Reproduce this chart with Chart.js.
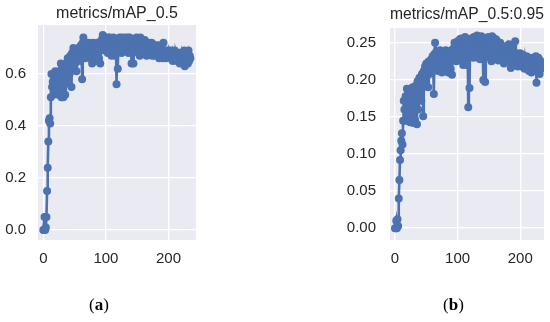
<!DOCTYPE html>
<html>
<head>
<meta charset="utf-8">
<script src="https://cdn.jsdelivr.net/npm/chart.js@4.4.1/dist/chart.umd.min.js"></script>
<style>
  html, body { margin: 0; padding: 0; background: #fff; overflow: hidden; }
  #wrap { position: relative; width: 550px; height: 322px; }
  .box { position: absolute; top: 0; width: 275px; height: 322px; }
  .cap { position: absolute; top: 295px; font-family: "Liberation Serif", "Times New Roman", serif; font-size: 17px; color: #000; }
  .cap b { font-weight: bold; }
</style>
</head>
<body>
<div id="wrap">
  <div class="box" style="left:0"><canvas id="chartA" width="275" height="322"></canvas></div>
  <div class="box" style="left:275px"><canvas id="chartB" width="275" height="322"></canvas></div>
  <div class="cap" style="left:89px">(<b>a</b>)</div>
  <div class="cap" style="left:443px">(<b>b</b>)</div>
</div>
<script>
// values, one per epoch (0..235)
var map50 = [
  0.00, 0.00, 0.05, 0.00, 0.01, 0.05, 0.15, 0.24, 0.34, 0.42,
  0.43, 0.41, 0.51, 0.60, 0.55, 0.57, 0.52, 0.60, 0.54, 0.61,
  0.53, 0.60, 0.56, 0.59, 0.52, 0.61, 0.57, 0.54, 0.64, 0.51,
  0.62, 0.58, 0.51, 0.63, 0.56, 0.52, 0.64, 0.57, 0.62, 0.66,
  0.59, 0.64, 0.60, 0.67, 0.62, 0.55, 0.68, 0.63, 0.70, 0.66,
  0.69, 0.64, 0.67, 0.61, 0.68, 0.66, 0.70, 0.67, 0.69, 0.65,
  0.71, 0.68, 0.58, 0.72, 0.74, 0.69, 0.71, 0.66, 0.70, 0.67,
  0.71, 0.68, 0.72, 0.67, 0.70, 0.66, 0.71, 0.69, 0.64, 0.72,
  0.69, 0.71, 0.67, 0.70, 0.69, 0.65, 0.72, 0.68, 0.70, 0.66,
  0.72, 0.64, 0.71, 0.73, 0.70, 0.75, 0.71, 0.73, 0.69, 0.72,
  0.74, 0.70, 0.73, 0.68, 0.74, 0.71, 0.74, 0.69, 0.72, 0.67,
  0.73, 0.71, 0.74, 0.69, 0.72, 0.67, 0.73, 0.56, 0.71, 0.62,
  0.72, 0.69, 0.74, 0.71, 0.73, 0.68, 0.74, 0.72, 0.70, 0.73,
  0.71, 0.74, 0.69, 0.73, 0.70, 0.74, 0.68, 0.72, 0.74, 0.70,
  0.72, 0.64, 0.70, 0.73, 0.64, 0.71, 0.69, 0.73, 0.70, 0.74,
  0.71, 0.73, 0.68, 0.72, 0.67, 0.74, 0.70, 0.72, 0.68, 0.73,
  0.71, 0.69, 0.73, 0.70, 0.72, 0.67, 0.71, 0.69, 0.72, 0.70,
  0.68, 0.71, 0.69, 0.72, 0.67, 0.70, 0.68, 0.71, 0.69, 0.70,
  0.67, 0.69, 0.71, 0.68, 0.70, 0.66, 0.69, 0.71, 0.67, 0.69,
  0.68, 0.66, 0.72, 0.67, 0.69, 0.68, 0.66, 0.69, 0.67, 0.68,
  0.69, 0.67, 0.68, 0.66, 0.69, 0.67, 0.68, 0.65, 0.68, 0.67,
  0.69, 0.66, 0.68, 0.67, 0.65, 0.68, 0.66, 0.67, 0.64, 0.68,
  0.66, 0.68, 0.65, 0.67, 0.66, 0.69, 0.63, 0.67, 0.65, 0.68,
  0.66, 0.64, 0.69, 0.65, 0.67, 0.66
];

var map5095 = [
  0.000, 0.000, 0.010, 0.000, 0.012, 0.003, 0.040, 0.065, 0.092, 0.105,
  0.118, 0.128, 0.113, 0.145, 0.172, 0.160, 0.145, 0.178, 0.152, 0.188,
  0.160, 0.182, 0.148, 0.175, 0.143, 0.185, 0.165, 0.150, 0.190, 0.142,
  0.180, 0.160, 0.146, 0.192, 0.170, 0.140, 0.198, 0.160, 0.195, 0.203,
  0.185, 0.200, 0.172, 0.208, 0.190, 0.151, 0.212, 0.195, 0.218, 0.200,
  0.222, 0.205, 0.215, 0.190, 0.225, 0.208, 0.220, 0.212, 0.228, 0.210,
  0.232, 0.218, 0.181, 0.235, 0.250, 0.222, 0.238, 0.215, 0.230, 0.212,
  0.235, 0.220, 0.240, 0.218, 0.232, 0.210, 0.236, 0.225, 0.215, 0.238,
  0.228, 0.240, 0.218, 0.235, 0.225, 0.210, 0.238, 0.222, 0.232, 0.215,
  0.240, 0.207, 0.235, 0.242, 0.228, 0.250, 0.236, 0.245, 0.225, 0.240,
  0.252, 0.235, 0.248, 0.228, 0.255, 0.240, 0.256, 0.232, 0.250, 0.220,
  0.254, 0.238, 0.258, 0.230, 0.245, 0.220, 0.250, 0.163, 0.240, 0.189,
  0.248, 0.232, 0.256, 0.240, 0.252, 0.230, 0.258, 0.245, 0.236, 0.255,
  0.242, 0.260, 0.230, 0.252, 0.238, 0.257, 0.228, 0.248, 0.259, 0.235,
  0.250, 0.200, 0.240, 0.255, 0.197, 0.245, 0.232, 0.256, 0.238, 0.258,
  0.244, 0.255, 0.230, 0.250, 0.225, 0.259, 0.238, 0.252, 0.228, 0.256,
  0.245, 0.232, 0.254, 0.236, 0.248, 0.226, 0.244, 0.232, 0.250, 0.235,
  0.228, 0.246, 0.234, 0.240, 0.222, 0.245, 0.230, 0.242, 0.232, 0.238,
  0.225, 0.236, 0.248, 0.228, 0.240, 0.216, 0.235, 0.244, 0.222, 0.238,
  0.230, 0.220, 0.252, 0.226, 0.236, 0.228, 0.218, 0.234, 0.225, 0.230,
  0.236, 0.222, 0.232, 0.218, 0.234, 0.225, 0.230, 0.215, 0.228, 0.222,
  0.232, 0.216, 0.228, 0.222, 0.212, 0.230, 0.218, 0.225, 0.210, 0.228,
  0.215, 0.230, 0.212, 0.226, 0.218, 0.232, 0.196, 0.225, 0.212, 0.230,
  0.218, 0.208, 0.226, 0.215, 0.222, 0.218
];

var xTicks = [0, 100, 200];
var yTicksA = [0.0, 0.2, 0.4, 0.6];
var yTicksB = [0.00, 0.05, 0.10, 0.15, 0.20, 0.25];

var blue = '#4c72b0';
var textColor = '#262626';
var fontName = '"Liberation Sans", Arial, sans-serif';

// seaborn style grey plot background
var bgPlugin = {
  id: 'plotBg',
  beforeDraw: function (chart) {
    var a = chart.chartArea;
    var ctx = chart.ctx;
    ctx.save();
    ctx.fillStyle = '#eaeaf2';
    ctx.fillRect(a.left, a.top, a.right - a.left, a.bottom - a.top);
    ctx.restore();
  }
};

function toPoints(values) {
  return values.map(function (v, i) { return { x: i, y: v }; });
}

function makeChart(id, opts) {
  var ctx = document.getElementById(id).getContext('2d');
  return new Chart(ctx, {
    type: 'line',
    data: {
      datasets: [{
        data: toPoints(opts.values),
        borderColor: blue,
        backgroundColor: blue,
        borderWidth: 2.6,
        pointRadius: 4,
        pointBorderWidth: 0,
        pointBackgroundColor: blue,
        tension: 0
      }]
    },
    options: {
      responsive: false,
      animation: false,
      layout: { padding: { left: 0, right: opts.padRight, top: 0, bottom: 0 } },
      plugins: {
        legend: { display: false },
        tooltip: { enabled: false },
        title: {
          display: true,
          text: opts.title,
          fullSize: false,
          color: textColor,
          font: { family: fontName, size: 16, weight: 'normal' },
          padding: { top: opts.titleTop, bottom: opts.titleBottom }
        }
      },
      scales: {
        x: {
          type: 'linear',
          min: opts.xMin,
          max: opts.xMax,
          afterBuildTicks: function (s) { s.ticks = xTicks.map(function (v) { return { value: v }; }); },
          afterFit: function (s) { s.height = 82; },
          grid: { color: '#ffffff', lineWidth: 1.3, drawTicks: false },
          border: { display: false },
          ticks: { color: textColor, padding: 10, font: { family: fontName, size: 15 } }
        },
        y: {
          min: opts.yMin,
          max: opts.yMax,
          afterBuildTicks: function (s) { s.ticks = opts.yTicks.map(function (v) { return { value: v }; }); },
          afterFit: function (s) { s.width = opts.yWidth; },
          grid: { color: '#ffffff', lineWidth: 1.3, drawTicks: false },
          border: { display: false },
          ticks: {
            color: textColor,
            padding: opts.yPad,
            font: { family: fontName, size: 15 },
            callback: function (v) { return v.toFixed(opts.digits); }
          }
        }
      }
    },
    plugins: [bgPlugin]
  });
}

makeChart('chartA', {
  values: map50, title: 'metrics/mAP_0.5', yTicks: yTicksA, digits: 1,
  xMin: -8.5, xMax: 244, yMin: -0.038, yMax: 0.788,
  yWidth: 38, padRight: 79, titleTop: 4, titleBottom: 1.8, yPad: 12
});

makeChart('chartB', {
  values: map5095, title: 'metrics/mAP_0.5:0.95', yTicks: yTicksB, digits: 2,
  xMin: -8, xMax: 238, yMin: -0.016, yMax: 0.27,
  yWidth: 115, padRight: 6, titleTop: 5, titleBottom: 3.8, yPad: 14
});
</script>
</body>
</html>
